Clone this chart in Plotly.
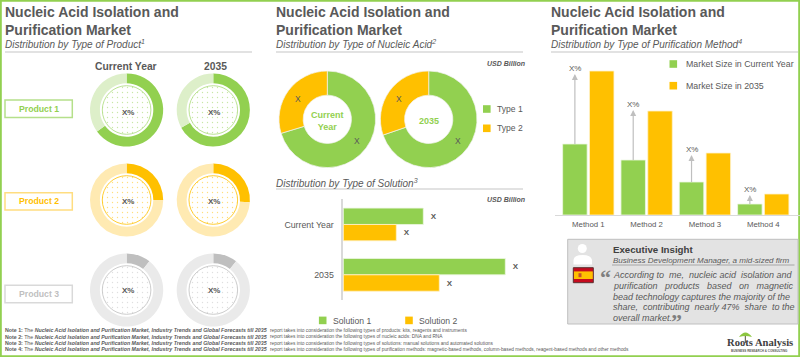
import plotly.graph_objects as go

W, H = 800, 357
GREEN, AMBER, GREY = "#92D050", "#FFC000", "#BFBFBF"
L_GREEN, L_AMBER, L_GREY = "#DDEFC9", "#FFEAB2", "#EAEAEA"
TXT = "#595959"
SANS = "Liberation Sans"
SERIF = "Liberation Serif"

# ---- data ----
products = ["Product 1", "Product 2", "Product 3"]
product_share_current = [65, 25, 10.7]
product_share_2035 = [67, 26, 10.7]
nucleic_types = ["Type 1", "Type 2"]
nucleic_current = [70.3, 29.7]
nucleic_2035 = [69.7, 30.3]
solution_years = ["Current Year", "2035"]
solution_1 = [80, 162]
solution_2 = [53, 96]
methods = ["Method 1", "Method 2", "Method 3", "Method 4"]
market_current = [71, 55, 33, 11]
market_2035 = [144, 104, 62, 21]
growth_label_level = [147, 111, 66, 26]
notes_types = [
    "products: kits, reagents and instruments",
    "nucleic acids: DNA and RNA",
    "solutions: manual solutions and automated solutions",
    "purification methods: magnetic-based methods, column-based methods, reagent-based methods and other methods",
]
NB = "&nbsp;"
quote_lines = [
    f"According to{NB} me,{NB} nucleic acid{NB} isolation and",
    f"purification{NB}{NB} products{NB}{NB} based{NB}{NB} on{NB}{NB} magnetic",
    "bead technology captures the majority of the",
    f"share,{NB} contributing{NB} nearly 47%{NB} share{NB} to the",
    "overall market.",
]


def px(x):
    return x / W


def py(y):
    return 1 - y / H


def dom(cx, cy, r):
    return dict(x=[px(cx - r), px(cx + r)], y=[py(cy + r), py(cy - r)])


fig = go.Figure()
ann, shapes = [], []


def text(x, y, s, size=9, color=TXT, anchor="left", bold=False, italic=False, family=SANS):
    if bold:
        s = f"<b>{s}</b>"
    if italic:
        s = f"<i>{s}</i>"
    ann.append(dict(x=px(x), y=py(y), xref="paper", yref="paper", text=s, showarrow=False,
                    xanchor=anchor, yanchor="middle", align=anchor,
                    font=dict(size=size, color=color, family=family),
                    borderpad=0, borderwidth=0))


def rect(x0, y0, x1, y1, fill=None, line=None, lw=1, layer="below"):
    shapes.append(dict(type="rect", xref="paper", yref="paper", x0=px(x0), x1=px(x1), y0=py(y1), y1=py(y0),
                       fillcolor=fill or "rgba(0,0,0,0)", line=dict(color=line or "rgba(0,0,0,0)", width=lw if line else 0),
                       layer=layer))


def hline(x0, x1, y, color="#D9D9D9", lw=1.5):
    shapes.append(dict(type="line", xref="paper", yref="paper", x0=px(x0), x1=px(x1), y0=py(y), y1=py(y),
                       line=dict(color=color, width=lw), layer="below"))


# ---- frame ----
rect(0.8, 0.8, 799.2, 356.2, line=GREEN, lw=2)

# ---- headers ----
heads = [(5, 252, "Distribution by Type of Product<sup>1</sup>"),
         (276, 523, "Distribution by Type of Nucleic Acid<sup>2</sup>"),
         (551, 798, "Distribution by Type of Purification Method<sup>4</sup>")]
for x0, x1, sub in heads:
    text(x0, 12.5, "Nucleic Acid Isolation and", 14, TXT, bold=True)
    text(x0, 29.5, "Purification Market", 14, TXT, bold=True)
    text(x0, 43.5, sub, 10, TXT, italic=True)
    hline(x0, x1, 52)
text(276, 182.5, "Distribution by Type of Solution<sup>3</sup>", 10, TXT, italic=True)
hline(276, 523, 189)
text(524.5, 63.5, "USD Billion", 7, TXT, anchor="right", bold=True, italic=True)
text(524.5, 199, "USD Billion", 7, TXT, anchor="right", bold=True, italic=True)

# ---- product rings ----
text(126.5, 66, "Current Year", 10.3, TXT, anchor="center", bold=True)
text(215, 66, "2035", 10.3, TXT, anchor="center", bold=True)
rows = [(110, GREEN, L_GREEN, 100, 117.5, "#B5E08A", 112, "#A9DA78"),
        (200, AMBER, L_AMBER, 192.7, 210, "#FFDD80", 201, "#FFC000"),
        (290, GREY, L_GREY, 285.3, 302.7, "#D9D9D9", 290.7, "#BFBFBF")]
for i, (cy, col, light, by0, by1, bcol, ty, ring) in enumerate(rows):
    rect(5, by0, 72.3, by1, fill="white", line=bcol, lw=1.5)
    text(38.5, (by0 + by1) / 2, products[i], 8.7, col, anchor="center", bold=True)
    for cx, shares in ((126.6, product_share_current), (213.3, product_share_2035)):
        fig.add_trace(go.Pie(values=[shares[i], 100 - shares[i]], labels=[products[i], "Other"],
                             hole=0.73, sort=False, direction="clockwise", rotation=0, textinfo="none",
                             marker=dict(colors=[col, light], line=dict(width=0)),
                             domain=dom(cx, cy, 36.6), showlegend=False, hoverinfo="skip"))
        fig.add_trace(go.Pie(values=[1], labels=[products[i]], sort=False, textinfo="none",
                             marker=dict(colors=[col], line=dict(color=ring, width=0.8),
                                         pattern=dict(shape=".", size=5, solidity=0.06, fillmode="replace",
                                                      fgopacity=0.5)),
                             domain=dom(cx, cy, 24.3), showlegend=False, hoverinfo="skip"))
        text(cx + 1, ty, "X%", 8, TXT, anchor="center", bold=True)

# ---- nucleic acid donuts ----
for cx, vals in ((327.3, nucleic_current), (428.7, nucleic_2035)):
    fig.add_trace(go.Pie(values=vals, labels=nucleic_types, hole=0.5, sort=False, direction="clockwise",
                         rotation=0, textinfo="none",
                         marker=dict(colors=[GREEN, AMBER], line=dict(color="#F2F2F2", width=0.7)),
                         domain=dom(cx, 119.3, 48.3), showlegend=False, hoverinfo="label+value"))
    text(cx - 29.6, 98.5, "X", 8.5, TXT, anchor="center")
    text(cx + 29.2, 140.7, "X", 8.5, TXT, anchor="center")
text(327.3, 121, "Current<br>Year", 9, GREEN, anchor="center", bold=True)
text(429.3, 120.7, "2035", 9, GREEN, anchor="center", bold=True)
for y, label, col in ((109, nucleic_types[0], GREEN), (128.3, nucleic_types[1], AMBER)):
    rect(483, y - 3.8, 490.6, y + 3.8, fill=col)
    text(496.5, y, label, 8.6, TXT)

# ---- solution bars ----
for vals, col, off, name in ((solution_1, GREEN, -0.325, "Solution 1"), (solution_2, AMBER, 0.0, "Solution 2")):
    fig.add_trace(go.Bar(y=solution_years, x=vals, orientation="h", name=name, width=0.325, offset=off,
                         marker=dict(color=col, line=dict(color="#EEF7E2" if col == GREEN else "#FFF2CC", width=0.8)),
                         text=[f"{NB}{NB}X", f"{NB}{NB}X"], textposition="outside", cliponaxis=False,
                         textfont=dict(size=8, color=TXT, family=SANS, weight="bold"),
                         xaxis="x", yaxis="y", showlegend=False))
for x, label, col in ((322.7, "Solution 1", GREEN), (409, "Solution 2", AMBER)):
    rect(x - 3.8, 316.6, x + 3.8, 324.2, fill=col)
    text(x + 10, 320.5, label, 8.6, TXT)

# ---- method bars ----
for vals, col, off, name in ((market_current, GREEN, -0.44, "Market Size in Current Year"),
                             (market_2035, AMBER, 0.02, "Market Size in 2035")):
    fig.add_trace(go.Bar(x=methods, y=vals, name=name, width=0.42, offset=off,
                         marker=dict(color=col, line=dict(color="#EEF7E2" if col == GREEN else "#FFF2CC", width=0.8)),
                         xaxis="x2", yaxis="y2", showlegend=False))
for i, (base, label_y) in enumerate(zip(market_current, growth_label_level)):
    ann.append(dict(x=i - 0.23, y=base, ax=i - 0.23, ay=label_y, xref="x2", yref="y2", axref="x2", ayref="y2",
                    text="X%", showarrow=True, arrowside="start", startarrowhead=2, startarrowsize=1,
                    arrowwidth=1.2, arrowcolor=GREY, font=dict(size=8, color=TXT, family=SANS)))
for y, label, col in ((64, "Market Size in Current Year", GREEN), (85.7, "Market Size in 2035", AMBER)):
    rect(669.5, y - 3.8, 677.1, y + 3.8, fill=col)
    text(686, y, label, 8.8, TXT)

# ---- executive insight ----
rect(567.7, 239.3, 798, 324, fill="#E3E3E3", line=GREY, lw=1)
shapes.append(dict(type="circle", xref="paper", yref="paper", x0=px(577.8), x1=px(586.8), y0=py(253), y1=py(244),
                   fillcolor="white", line=dict(width=0), layer="below"))
shapes.append(dict(type="path", xref="paper", yref="paper",
                   path=f"M {px(573.5)} {py(264.5)} L {px(573.5)} {py(260)} Q {px(574)} {py(255)} {px(582.5)} {py(255)} "
                        f"Q {px(591)} {py(255)} {px(592)} {py(260)} L {px(592)} {py(264.5)} Z",
                   fillcolor="white", line=dict(width=0), layer="below"))
rect(573.3, 267.7, 593.3, 282.7, fill="#C60B1E", line="#5A3030", lw=1)
rect(574, 271.4, 592.8, 279, fill=AMBER)
rect(578.5, 273.2, 581.5, 277.2, fill="#C6502A")
text(612.7, 249.5, "Executive Insight", 9.7, "#404040", bold=True)
text(612.7, 260.8, "Business Development Manager, a mid-sized firm", 8, TXT, italic=True)
hline(612, 794.5, 265, color="#A6A6A6", lw=1)
for y, line in zip((275, 286, 296.7, 307.3, 318), quote_lines):
    text(612.7, y, line, 9, TXT, italic=True)
text(600, 277, "“", 22, "#7F7F7F", bold=True, family=SERIF)
text(671, 321, "”", 22, "#7F7F7F", bold=True, family=SERIF)

# ---- notes ----
bold_title = "<b><i>Nucleic Acid Isolation and Purification Market, Industry Trends and Global Forecasts till 2035</i></b>"
for i, (y, kind) in enumerate(zip((330.4, 336.7, 343, 349.3), notes_types), start=1):
    text(4.5, y, f"<b>Note {i}:</b> The {bold_title}", 5.25, "#595959")
    text(270, y, f"report takes into consideration the following types of {kind}", 4.8, "#595959")

# ---- logo ----
shapes.append(dict(type="path", xref="paper", yref="paper",
                   path=f"M {px(739)} {py(337)} Q {px(745.3)} {py(328)} {px(752)} {py(337)} Q {px(745.3)} {py(335)} {px(739)} {py(337)} Z",
                   fillcolor="#8CC63F", line=dict(width=0), layer="below"))
shapes.append(dict(type="line", xref="paper", yref="paper", x0=px(745.3), x1=px(745.3), y0=py(343), y1=py(336),
                   line=dict(color="#4F4F3A", width=1), layer="below"))
text(759.5, 342.5, "Roots Analysis", 10.6, "#3F3F3F", anchor="center", bold=True, family=SERIF)
text(759.5, 351.3, "BUSINESS RESEARCH &amp; CONSULTING", 3, "#595959", anchor="center", bold=True)

fig.update_layout(
    width=W, height=H, margin=dict(l=0, r=0, t=0, b=0, pad=0), autosize=False,
    paper_bgcolor="white", plot_bgcolor="rgba(0,0,0,0)", showlegend=False,
    barmode="group", annotations=ann, shapes=shapes,
    font=dict(family=SANS, color=TXT),
    xaxis=dict(domain=[px(343.3), px(543.3)], range=[0, 200], visible=False, anchor="y"),
    yaxis=dict(domain=[py(300), py(199.3)], type="category", range=[1.5, -0.5], anchor="x",
               showline=True, linecolor="#D9D9D9", linewidth=1.5, showgrid=False, zeroline=False,
               ticks="", ticklabelstandoff=6, tickfont=dict(size=8.8, color=TXT, family=SANS)),
    xaxis2=dict(domain=[px(555), 1], type="category", range=[-0.571, 3.63], anchor="y2",
                showline=True, linecolor="#D9D9D9", linewidth=1.2, showgrid=False, zeroline=False,
                ticks="", ticklabelstandoff=2, tickfont=dict(size=7.8, color=TXT, family=SANS)),
    yaxis2=dict(domain=[py(215), py(60)], range=[0, 155], visible=False, anchor="x2"),
)

fig.write_html("out.html", config=dict(displayModeBar=False),
               post_script="document.body.style.margin='0';document.documentElement.style.overflow='hidden';")
